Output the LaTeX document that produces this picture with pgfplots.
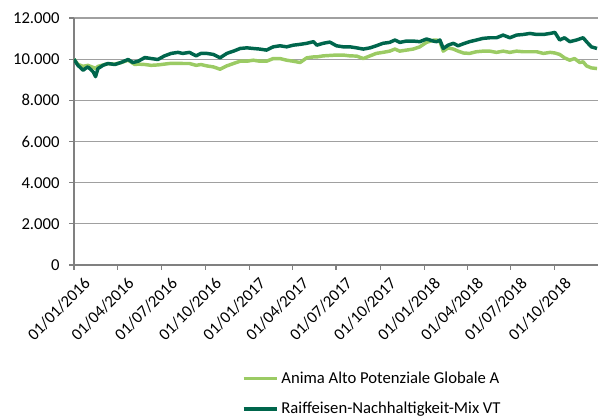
\documentclass[border=0pt]{standalone}
\usepackage{pgfplots}
\pgfplotsset{compat=1.18}
\usepackage{fontspec}
\setmainfont{Carlito}
\definecolor{lightg}{RGB}{155,203,100}
\definecolor{darkg}{RGB}{0,102,76}
\definecolor{gridc}{RGB}{160,160,160}
\definecolor{axc}{RGB}{128,128,128}
\begin{document}
\fontsize{12.5}{15}\selectfont
\begin{tikzpicture}
\path[use as bounding box] (-55.5pt,-114.75pt) rectangle (394.5pt,198.75pt);
\begin{axis}[
  at={(0,0)}, anchor=south west,
  scale only axis, width=393pt, height=185.25pt,
  xmin=0, xmax=1094, ymin=0, ymax=12000,
  scaled y ticks=false, scaled x ticks=false,
  axis x line*=bottom, axis y line*=left,
  axis line style={axc, line width=0.8pt, -},
  every tick/.style={axc, line width=0.8pt},
  tick align=outside, major tick length=3.5pt,
  ytick={0,2000,4000,6000,8000,10000,12000},
  yticklabels={0,{2.000},{4.000},{6.000},{8.000},{10.000},{12.000}},
  xtick={0,91,182,274,366,456,547,639,731,821,912,1004},
  xticklabels={01/01/2016,01/04/2016,01/07/2016,01/10/2016,01/01/2017,01/04/2017,01/07/2017,01/10/2017,01/01/2018,01/04/2018,01/07/2018,01/10/2018},
  xticklabel style={rotate=45, anchor=north east, inner sep=1pt, xshift=2.5pt, yshift=-7pt, font=\fontsize{12.5}{15}\selectfont},
  yticklabel style={font=\fontsize{12.5}{15}\selectfont, xshift=-3pt},
  ymajorgrids, grid style={gridc, line width=0.8pt},
  /pgf/number format/assume math mode=true,
  legend style={at={(0.32,-0.42)}, anchor=north west, draw=none, fill=none,
    font=\fontsize{12.5}{15}\selectfont, row sep=8pt, inner sep=0pt},
  legend cell align=left,
  legend image code/.code={\draw[#1, line width=2.6pt] (0pt,0pt) -- (25pt,0pt);},
]
\addplot[lightg, line width=2.6pt, line join=round] coordinates {
(0,10000)(8,9750)(19,9650)(29,9700)(40,9600)(45,9550)(50,9650)(61,9720)(71,9780)(85,9760)
(98,9830)(113,9950)(127,9740)(134,9760)(148,9740)(161,9700)(175,9720)(189,9760)(203,9800)
(217,9800)(227,9790)(241,9790)(255,9700)(265,9740)(277,9674)(291,9625)(305,9511)(319,9674)
(333,9790)(347,9900)(361,9900)(374,9950)(388,9900)(402,9900)(416,10030)(430,10030)(444,9950)
(458,9900)(472,9837)(486,10065)(500,10110)(507,10110)(520,10160)(534,10180)(548,10200)
(562,10200)(576,10160)(590,10150)(604,10030)(618,10160)(631,10280)(645,10330)(659,10390)
(670,10490)(680,10390)(694,10440)(708,10490)(722,10600)(736,10815)(750,10920)(757,10930)
(764,10850)(771,10390)(781,10550)(792,10490)(802,10390)(813,10300)(826,10280)(840,10360)
(854,10390)(868,10390)(882,10330)(896,10390)(910,10330)(924,10390)(938,10360)(952,10360)
(966,10360)(980,10280)(994,10330)(1004,10300)(1014,10230)(1024,10065)(1035,9950)(1045,10030)
(1056,9837)(1063,9870)(1070,9674)(1080,9576)(1092,9544)
};
\addlegendentry{Anima Alto Potenziale Globale A}
\addplot[darkg, line width=2.6pt, line join=round] coordinates {
(0,10000)(8,9707)(19,9462)(24,9550)(29,9625)(35,9500)(40,9380)(45,9150)(50,9544)(61,9707)
(71,9790)(85,9740)(98,9837)(113,9984)(123,9837)(134,9900)(148,10080)(161,10030)(175,9984)
(189,10160)(203,10280)(217,10330)(227,10280)(241,10330)(255,10160)(265,10280)(277,10280)
(291,10230)(305,10065)(319,10280)(333,10390)(347,10520)(361,10550)(374,10520)(388,10490)
(402,10440)(416,10600)(430,10650)(444,10600)(458,10680)(472,10720)(486,10770)(500,10850)
(507,10680)(520,10770)(534,10830)(548,10650)(562,10600)(576,10600)(590,10550)(604,10490)
(618,10550)(631,10650)(645,10770)(659,10815)(670,10930)(680,10815)(694,10880)(708,10880)
(722,10850)(736,10980)(750,10880)(757,10850)(764,10930)(771,10520)(781,10680)(792,10770)
(802,10650)(813,10750)(826,10850)(840,10930)(854,11010)(868,11040)(882,11040)(896,11170)
(910,11040)(924,11170)(938,11200)(952,11250)(966,11200)(980,11200)(994,11250)(1004,11300)
(1014,10930)(1024,11040)(1035,10850)(1049,10930)(1063,11040)(1070,10850)(1080,10600)(1092,10520)
};
\addlegendentry{Raiffeisen-Nachhaltigkeit-Mix VT}
\end{axis}
\end{tikzpicture}
\end{document}
